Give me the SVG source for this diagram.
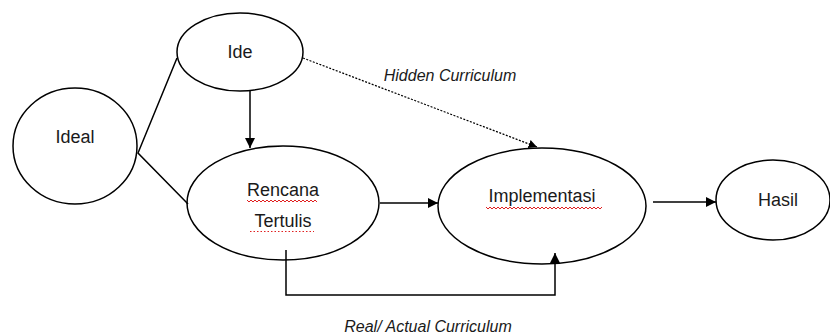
<svg xmlns="http://www.w3.org/2000/svg" width="830" height="336" viewBox="0 0 830 336">
<style>
.node{fill:#fff;stroke:#000;stroke-width:1.5}
.lbl{font-family:"Liberation Sans",Arial,sans-serif;font-size:18px;fill:#1a1a1a;text-anchor:middle}
.it{font-family:"Liberation Sans",Arial,sans-serif;font-size:16px;font-style:italic;fill:#1a1a1a;text-anchor:middle}
.ln{fill:none;stroke:#000;stroke-width:1.5}
.sq{fill:none;stroke:#e02020;stroke-width:1}
</style>
<defs>
<marker id="ah" viewBox="0 0 10 10" refX="10" refY="5" markerWidth="7" markerHeight="7" orient="auto" markerUnits="strokeWidth">
<path d="M0,0 L10,5 L0,10 z" fill="#000"/>
</marker>
</defs>
<rect width="830" height="336" fill="#fff"/>
<g id="ideal">
<ellipse class="node" cx="75" cy="146" rx="62" ry="58"/>
<text class="lbl" x="75" y="143">Ideal</text>
</g>
<g id="ide">
<ellipse class="node" cx="240" cy="52" rx="63" ry="39"/>
<text class="lbl" x="240" y="58">Ide</text>
</g>
<g id="rencana">
<ellipse class="node" cx="283" cy="203" rx="96" ry="57"/>
<text class="lbl" x="283" y="196">Rencana</text>
<path class="sq" d="M247,200 l2,2 l2,-2 l2,2 l2,-2 l2,2 l2,-2 l2,2 l2,-2 l2,2 l2,-2 l2,2 l2,-2 l2,2 l2,-2 l2,2 l2,-2 l2,2 l2,-2 l2,2 l2,-2 l2,2 l2,-2 l2,2 l2,-2 l2,2 l2,-2 l2,2 l2,-2 l2,2 l2,-2 l2,2 l2,-2 l2,2 l2,-2 l2,2"/>
<text class="lbl" x="283" y="227">Tertulis</text>
<line x1="250" y1="231.5" x2="314" y2="231.5" stroke="#e02020" stroke-width="1" stroke-dasharray="1.5,2"/>
</g>
<g id="implementasi">
<ellipse class="node" cx="542" cy="206" rx="104" ry="58"/>
<text class="lbl" x="542" y="202">Implementasi</text>
<path class="sq" d="M486,207 l2,2 l2,-2 l2,2 l2,-2 l2,2 l2,-2 l2,2 l2,-2 l2,2 l2,-2 l2,2 l2,-2 l2,2 l2,-2 l2,2 l2,-2 l2,2 l2,-2 l2,2 l2,-2 l2,2 l2,-2 l2,2 l2,-2 l2,2 l2,-2 l2,2 l2,-2 l2,2 l2,-2 l2,2 l2,-2 l2,2 l2,-2 l2,2 l2,-2 l2,2 l2,-2 l2,2 l2,-2 l2,2 l2,-2 l2,2 l2,-2 l2,2 l2,-2 l2,2 l2,-2 l2,2 l2,-2 l2,2 l2,-2 l2,2 l2,-2 l2,2 l2,-2 l2,2 l2,-2"/>
</g>
<g id="hasil">
<ellipse class="node" cx="773" cy="200" rx="57" ry="40"/>
<text class="lbl" x="778" y="206">Hasil</text>
</g>
<g id="connectors">
<path class="ln" d="M177,58 L138,153 L188,204"/>
<line class="ln" x1="250" y1="91" x2="250" y2="148" marker-end="url(#ah)"/>
<line x1="303" y1="58" x2="537" y2="147" stroke="#000" stroke-width="1.2" stroke-dasharray="2,1.5" marker-end="url(#ah)"/>
<line class="ln" x1="380" y1="203" x2="438" y2="203" marker-end="url(#ah)"/>
<line class="ln" x1="653" y1="202" x2="716" y2="202" marker-end="url(#ah)"/>
<path class="ln" d="M286,250 L286,295 L555,295 L555,253" marker-end="url(#ah)"/>
<text class="it" x="450" y="81">Hidden Curriculum</text>
<text class="it" x="428" y="332">Real/ Actual Curriculum</text>
</g>
</svg>
